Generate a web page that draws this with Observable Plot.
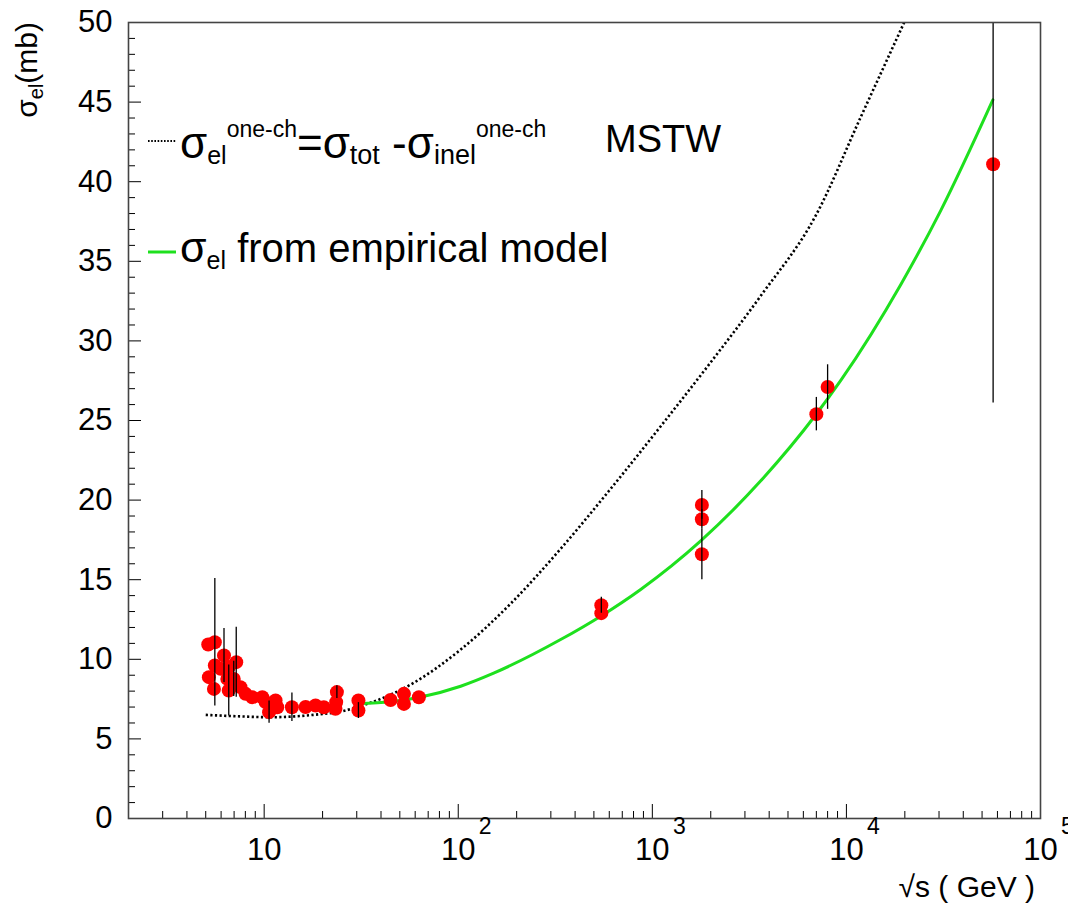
<!DOCTYPE html>
<html>
<head>
<meta charset="utf-8">
<script src="https://cdn.jsdelivr.net/npm/d3@7"></script>
<script src="https://cdn.jsdelivr.net/npm/@observablehq/plot@0.6"></script>
<style>
  html, body { margin: 0; padding: 0; background: #fff; }
  #chart svg { display: block; }
</style>
</head>
<body>
<div id="chart"></div>
<script>
// ---- measured data: sqrt(s) in GeV, sigma_el in mb, error in mb ----
const dataEnergy = [5.15, 5.57, 6.21, 5.57, 5.97, 7.18, 5.19, 5.51, 6.57, 6.46, 6.97, 6.57, 7.55, 8.02, 8.68, 9.78, 10.17, 11.45, 10.8, 10.6, 11.68, 13.9, 16.35, 18.4, 20.3, 23.3, 23.5, 23.7, 30.6, 30.6, 44.8, 52.5, 52.5, 62.7, 546, 546, 1800, 1800, 1800, 7000, 8000, 57000];
const dataSigma  = [10.93, 11.07, 10.24, 9.61, 9.40, 9.82, 8.88, 8.14, 9.51, 8.77, 8.77, 8.04, 8.25, 7.83, 7.62, 7.62, 7.31, 7.41, 6.99, 6.68, 6.99, 6.99, 7.0, 7.1, 6.99, 6.89, 7.31, 7.94, 7.41, 6.78, 7.44, 7.83, 7.2, 7.62, 13.4, 12.9, 19.7, 18.8, 16.6, 25.4, 27.1, 41.1];
const dataError  = [0, 4.0, 1.7, 0, 0, 2.2, 0, 0, 0, 0, 1.1, 1.6, 0, 0, 0, 0, 0, 0, 0, 0.7, 0, 0.9, 0, 0, 0, 0, 0, 0.4, 0, 0.5, 0, 0, 0, 0, 0.5, 0, 0.9, 0.6, 1.6, 1.05, 1.4, 15];

// ---- MSTW one-channel curve (dotted) ----
const dottedEnergy = [5.0, 7.29, 10.8, 15.4, 20.3, 24.8, 30.3, 39.8, 56.8, 102.9, 186, 337, 610, 1105, 2000, 3620, 6954, 11864, 19840];
const dottedSigma  = [6.51, 6.42, 6.36, 6.44, 6.58, 6.72, 7.0, 7.51, 8.41, 10.61, 13.49, 16.94, 20.71, 24.64, 28.66, 32.83, 37.88, 44.07, 50.0];

// ---- empirical model curve (green) ----
const greenEnergy = [30.7, 44.8, 62.5, 102.9, 152.2, 337, 542, 871, 1776, 3620, 6954, 9354, 19074, 30660, 56840];
const greenSigma  = [7.22, 7.33, 7.60, 8.31, 9.13, 11.24, 12.71, 14.39, 17.44, 21.21, 25.36, 27.52, 33.55, 38.20, 45.14];

// ---- ticks ----
const xMajorTicks = [10, 100, 1000, 10000, 100000];
const xMinorTicks = [];
for (const dec of [1, 10, 100, 1000, 10000]) for (let m = 2; m <= 9; m++) { const v = m * dec; if (v >= 2 && !xMajorTicks.includes(v)) xMinorTicks.push(v); }
const yMajorTicks = [0, 5, 10, 15, 20, 25, 30, 35, 40, 45, 50];
const yMinorTicks = d3.range(0, 51).filter(v => v % 5 !== 0);

const points = dataEnergy.map((e, i) => ({e, s: dataSigma[i], err: dataError[i]}));
const bars = points.filter(d => d.err > 0);
const dotted = dottedEnergy.map((e, i) => ({e, s: dottedSigma[i]}));
const green = greenEnergy.map((e, i) => ({e, s: greenSigma[i]}));

const W = 1068, H = 907, mL = 128, mR = 28, mT = 22, mB = 89;
const frameW = W - mL - mR, frameH = H - mT - mB;
const FONT = "'Liberation Sans', Arial, Helvetica, sans-serif";
const GREEN = "#1ee01e";

const chart = Plot.plot({
  width: W, height: H,
  marginLeft: mL, marginRight: mR, marginTop: mT, marginBottom: mB,
  style: {background: "#fff", fontFamily: FONT, color: "#000"},
  x: {type: "log", domain: [2, 1e5], axis: null},
  y: {domain: [0, 50], axis: null},
  marks: [
    Plot.line(dotted, {x: "e", y: "s", stroke: "#000", strokeWidth: 2.6, strokeDasharray: "2.2,2.4", strokeLinecap: "butt", curve: "monotone-x"}),
    Plot.line(green, {x: "e", y: "s", stroke: GREEN, strokeWidth: 3, curve: "monotone-x"}),
    Plot.dot(points, {x: "e", y: "s", r: 7, fill: "#ff0000", stroke: "none"}),
    Plot.ruleX(bars, {x: "e", y1: d => d.s - d.err, y2: d => Math.min(50, d.s + d.err), stroke: "#000", strokeWidth: 1.3}),
    Plot.tickX(xMinorTicks, {x: d => d, insetTop: frameH - 7, stroke: "#000"}),
    Plot.tickX(xMajorTicks, {x: d => d, insetTop: frameH - 14, stroke: "#000"}),
    Plot.tickY(yMinorTicks, {y: d => d, insetRight: frameW - 7, stroke: "#000"}),
    Plot.tickY(yMajorTicks, {y: d => d, insetRight: frameW - 13, stroke: "#000"}),
    Plot.frame({stroke: "#444", strokeWidth: 1.6}),
    Plot.axisY(yMajorTicks, {anchor: "left", tickSize: 0, tickPadding: 16, fontSize: 31, label: null}),
    Plot.text(xMajorTicks, {x: d => d, frameAnchor: "bottom", dy: 41, text: () => "10", fontSize: 31}),
    Plot.text(xMajorTicks.filter(d => d > 10), {x: d => d, frameAnchor: "bottom", dy: 15, dx: 27, text: d => String(Math.round(Math.log10(d))), fontSize: 23})
  ]
});

document.getElementById("chart").appendChild(chart);

// ---- legend and axis titles ----
const svg = d3.select(chart);
const g = svg.append("g").attr("font-family", FONT).attr("fill", "#000").attr("text-anchor", "start");

// dotted legend entry
g.append("line").attr("x1", 148).attr("x2", 176).attr("y1", 141).attr("y2", 141)
  .attr("stroke", "#000").attr("stroke-width", 1.8).attr("stroke-dasharray", "1.6,1.6");
const t1 = g.append("text").attr("x", 180).attr("y", 158).attr("font-size", 44).attr("text-anchor", "start");
t1.append("tspan").text("σ");
t1.append("tspan").attr("font-size", 25).attr("dy", 6).text("el");
t1.append("tspan").attr("font-size", 23).attr("dy", -27).text("one-ch");
t1.append("tspan").attr("dy", 21).text("=");
t1.append("tspan").text("σ");
t1.append("tspan").attr("font-size", 27).attr("dy", 6).text("tot");
t1.append("tspan").attr("dy", -6).text(" -");
t1.append("tspan").text("σ");
t1.append("tspan").attr("font-size", 27).attr("dy", 6).text("inel");
t1.append("tspan").attr("font-size", 23).attr("dy", -27).text("one-ch");

g.append("text").attr("x", 605).attr("y", 152).attr("font-size", 38).attr("text-anchor", "start").text("MSTW");

// green legend entry
g.append("line").attr("x1", 148).attr("x2", 176).attr("y1", 252).attr("y2", 252)
  .attr("stroke", GREEN).attr("stroke-width", 3);
const t2 = g.append("text").attr("x", 180).attr("y", 262).attr("font-size", 43).attr("text-anchor", "start");
t2.append("tspan").text("σ");
t2.append("tspan").attr("font-size", 25).attr("dy", 7).text("el");
t2.append("tspan").attr("font-size", 40).attr("dy", -7).text(" from empirical model");

// y title
const yt = g.append("text").attr("transform", "translate(37,22) rotate(-90)")
  .attr("text-anchor", "end").attr("font-size", 30);
yt.append("tspan").text("σ");
yt.append("tspan").attr("font-size", 20).attr("dy", 6).text("el");
yt.append("tspan").attr("dy", -6).text("(mb)");

// x title
g.append("text").attr("x", 1035).attr("y", 897).attr("text-anchor", "end")
  .attr("font-size", 30).text("√s ( GeV )");
</script>
</body>
</html>
